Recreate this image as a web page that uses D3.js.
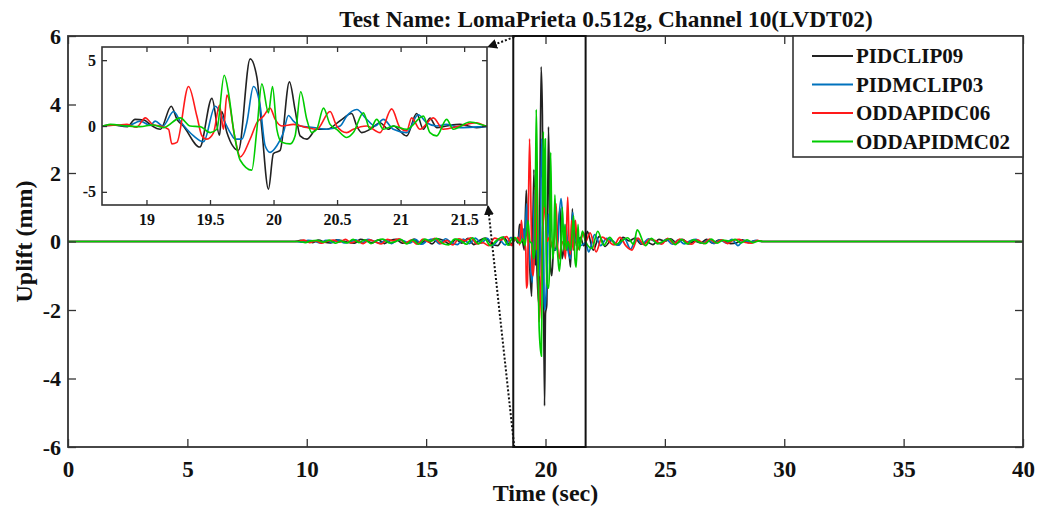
<!DOCTYPE html>
<html>
<head>
<meta charset="utf-8">
<title>Uplift time history</title>
<script src="https://d3js.org/d3.v7.min.js"></script>
<style>
  body { margin: 0; background: #fff; }
  text { font-family: "Liberation Serif", "Times New Roman", serif; font-weight: bold; fill: #111; }
  .tick line { stroke: #333; stroke-width: 1.3px; }
</style>
</head>
<body>
<svg id="chart" width="1040" height="509"></svg>
<script>
// ---- data ----
var seriesNames = ["PIDCLIP09", "PIDMCLIP03", "ODDAPIDC06", "ODDAPIDMC02"];
var seriesColors = ["#222222", "#0072bd", "#ff1a1a", "#00cc00"];

var xTicks = [0, 5, 10, 15, 20, 25, 30, 35, 40];
var yTicks = [-6, -4, -2, 0, 2, 4, 6];
var insetXTicks = [19, 19.5, 20, 20.5, 21, 21.5];
var insetYTicks = [-5, 0, 5];
var zoomWindow = [18.65, 21.68];

// quiet parts of the record (value 0)
var quietBefore = [0, 9.3];
var quietAfter = [29.1, 40];

// sample times of the low level noise, one set per record
var preTimesA = [9.5, 9.75, 10, 10.25, 10.5, 10.75, 11, 11.25, 11.5, 11.75, 12, 12.25, 12.5, 12.75, 13, 13.25, 13.5, 13.75, 14, 14.25, 14.5, 14.75, 15, 15.25, 15.5, 15.75, 16, 16.25, 16.5, 16.75, 17, 17.25, 17.5, 17.75, 18, 18.25, 18.5];
var preTimesB = [9.56, 9.81, 10.06, 10.31, 10.56, 10.81, 11.06, 11.31, 11.56, 11.81, 12.06, 12.31, 12.56, 12.81, 13.06, 13.31, 13.56, 13.81, 14.06, 14.31, 14.56, 14.81, 15.06, 15.31, 15.56, 15.81, 16.06, 16.31, 16.56, 16.81, 17.06, 17.31, 17.56, 17.81, 18.06, 18.31, 18.56];
var preTimesC = [9.62, 9.87, 10.12, 10.37, 10.62, 10.87, 11.12, 11.37, 11.62, 11.87, 12.12, 12.37, 12.62, 12.87, 13.12, 13.37, 13.62, 13.87, 14.12, 14.37, 14.62, 14.87, 15.12, 15.37, 15.62, 15.87, 16.12, 16.37, 16.62, 16.87, 17.12, 17.37, 17.62, 17.87, 18.12, 18.37, 18.6];
var preTimesD = [9.69, 9.94, 10.19, 10.44, 10.69, 10.94, 11.19, 11.44, 11.69, 11.94, 12.19, 12.44, 12.69, 12.94, 13.19, 13.44, 13.69, 13.94, 14.19, 14.44, 14.69, 14.94, 15.19, 15.44, 15.69, 15.94, 16.19, 16.44, 16.69, 16.94, 17.19, 17.44, 17.69, 17.94, 18.19, 18.44, 18.62];
var postTimesA = [21.75, 22, 22.25, 22.5, 22.75, 23, 23.25, 23.5, 23.75, 24, 24.25, 24.5, 24.75, 25, 25.25, 25.5, 25.75, 26, 26.25, 26.5, 26.75, 27, 27.25, 27.5, 27.75, 28, 28.25, 28.5, 28.75];
var postTimesB = [21.81, 22.06, 22.31, 22.56, 22.81, 23.06, 23.31, 23.56, 23.81, 24.06, 24.31, 24.56, 24.81, 25.06, 25.31, 25.56, 25.81, 26.06, 26.31, 26.56, 26.81, 27.06, 27.31, 27.56, 27.81, 28.06, 28.31, 28.56, 28.81];
var postTimesC = [21.87, 22.12, 22.37, 22.62, 22.87, 23.12, 23.37, 23.62, 23.87, 24.12, 24.37, 24.62, 24.87, 25.12, 25.37, 25.62, 25.87, 26.12, 26.37, 26.62, 26.87, 27.12, 27.37, 27.62, 27.87, 28.12, 28.37, 28.62, 28.87];
var postTimesD = [21.94, 22.19, 22.44, 22.69, 22.94, 23.19, 23.44, 23.69, 23.84, 24.19, 24.44, 24.69, 24.94, 25.19, 25.44, 25.69, 25.94, 26.19, 26.44, 26.69, 26.94, 27.19, 27.44, 27.69, 27.94, 28.19, 28.44, 28.69, 28.94];

var pidclipPre = [0, 0.03, 0.01, -0.03, 0.04, -0.02, -0.04, 0.05, 0.02, -0.03, -0.05, 0.06, 0.02, -0.04, 0.05, -0.06, 0.03, 0.06, -0.05, -0.02, 0.07, -0.06, 0.04, -0.07, 0.08, 0.02, -0.08, 0.06, -0.05, 0.09, -0.09, 0.04, 0.1, -0.08, -0.12, 0.13, -0.1];
var pidmclipPre = [0, -0.02, 0.03, 0.01, -0.04, 0.03, -0.03, 0.05, -0.04, -0.01, 0.05, -0.04, 0.06, 0.01, -0.05, 0.04, -0.06, 0.05, 0.02, -0.05, 0.06, -0.08, 0.03, 0.07, -0.07, 0.08, -0.03, -0.09, 0.07, -0.06, 0.1, -0.04, 0.09, -0.11, 0.06, -0.1, 0.12];
var oddaPidcPre = [0, 0.04, -0.03, 0.02, -0.05, 0.01, 0.04, -0.02, 0.06, -0.04, 0.02, -0.06, 0.05, -0.01, -0.07, 0.06, 0.02, 0.08, -0.05, 0.04, -0.08, 0.07, -0.02, 0.09, -0.06, 0.03, -0.1, 0.08, 0.02, 0.11, -0.07, -0.03, -0.12, 0.1, 0.04, 0.14, -0.12];
var oddaPidmcPre = [0, -0.03, 0.02, 0.03, -0.02, 0.04, -0.05, 0.01, -0.04, 0.06, -0.03, 0.05, -0.06, 0.03, 0.07, -0.04, -0.01, 0.06, -0.07, 0.05, -0.08, 0.07, 0.01, 0.09, -0.06, -0.1, 0.07, 0.03, -0.08, 0.11, -0.07, 0.09, -0.12, 0.02, 0.13, -0.11, 0.1];

var pidclipPost = [0.3, -0.25, 0.15, -0.14, 0.03, -0.1, 0.12, 0.02, 0.1, -0.08, -0.02, -0.09, 0.06, 0.01, 0.08, -0.05, 0.06, -0.07, 0.01, -0.04, 0.06, -0.05, 0.04, 0.01, -0.06, -0.04, 0.05, -0.03, 0.02];
var pidmclipPost = [-0.3, 0.2, -0.12, 0.09, 0.02, -0.11, 0.08, -0.22, 0.09, -0.07, 0.08, 0.01, -0.06, 0.07, -0.08, 0.05, -0.07, 0.02, 0.06, -0.05, 0.04, -0.06, 0.05, -0.04, 0.06, -0.12, 0.03, -0.02, 0.03];
var oddaPidcPost = [0.25, -0.3, 0.13, 0.02, -0.1, 0.12, -0.13, -0.25, 0.1, -0.09, 0.07, 0.02, -0.08, 0.09, -0.06, 0.07, 0.01, -0.08, 0.05, -0.06, 0.07, -0.04, 0.05, -0.06, 0.04, 0.06, -0.03, -0.05, 0.03];
var oddaPidmcPost = [-0.2, 0.3, -0.11, 0.12, -0.09, 0.02, 0.11, -0.08, 0.34, -0.12, 0.09, -0.07, 0.01, 0.08, -0.09, 0.06, -0.07, 0.05, -0.02, -0.06, 0.07, -0.05, 0.04, 0.01, 0.06, -0.04, 0.05, -0.03, 0.02];

// strong motion part (the zoomed window)
var pidclipT = [18.65, 18.72, 18.85, 18.91, 18.98, 19.03, 19.11, 19.195, 19.24, 19.29, 19.42, 19.515, 19.575, 19.593, 19.633, 19.724, 19.816, 19.869, 19.908, 19.96, 19.999, 20.052, 20.125, 20.17, 20.209, 20.262, 20.34, 20.419, 20.524, 20.615, 20.655, 20.694, 20.76, 20.838, 20.904, 20.943, 21.048, 21.126, 21.179, 21.231, 21.284, 21.362, 21.467, 21.598, 21.68];
var pidclipV = [0, 0.1, -0.05, 0.5, 0.45, 0.1, -0.25, 1.5, 0.5, 0, -1.6, 2.1, -0.7, 1.1, -0.5, -1.85, 5.1, 3.7, -0.25, -4.8, -2.1, -1.85, 3.35, 1.2, -0.75, -1.0, -0.25, -0.25, 0.4, 0.95, 0, -0.5, -0.25, 0.25, -0.25, 0, -0.75, 0.95, -0.25, 0.6, -0.12, 0, 0.12, -0.12, 0];

var pidmclipT = [18.65, 18.75, 18.85, 18.951, 19.03, 19.069, 19.13, 19.213, 19.266, 19.371, 19.449, 19.541, 19.606, 19.659, 19.698, 19.751, 19.79, 19.842, 19.895, 19.934, 19.973, 20.026, 20.078, 20.117, 20.157, 20.209, 20.314, 20.419, 20.524, 20.576, 20.655, 20.733, 20.799, 20.864, 20.943, 21.048, 21.139, 21.205, 21.284, 21.362, 21.467, 21.68];
var pidmclipV = [0, 0.08, 0, 0.37, 0.05, 0.37, 0, 1.1, 0.37, -0.75, -1.2, 1.5, 0.5, -0.5, -1.0, -1.0, 0.25, 3.0, 1.5, -1.5, -2.0, -1.5, -0.5, 0.8, 0.37, 0, -0.12, -0.25, 0, 0.75, 1.25, 0.5, 0, 0.5, -0.25, -0.5, 0.85, 0.25, 0, 0.12, -0.12, -0.05];

var oddaPidcT = [18.65, 18.78, 18.847, 18.92, 18.991, 19.05, 19.109, 19.174, 19.2, 19.24, 19.331, 19.397, 19.436, 19.475, 19.528, 19.575, 19.606, 19.633, 19.698, 19.738, 19.816, 19.869, 19.921, 19.973, 20.013, 20.065, 20.157, 20.262, 20.34, 20.445, 20.497, 20.576, 20.628, 20.733, 20.838, 20.93, 20.995, 21.048, 21.087, 21.153, 21.257, 21.336, 21.467, 21.598, 21.68];
var oddaPidcV = [0, 0.08, 0.12, -0.1, 0.62, 0.1, 0, -0.25, -1.36, -1.24, 3.0, 0.74, -0.74, -1.0, -0.5, 1.6, -0.25, 2.35, -0.99, -2.35, -0.99, 0.25, 0.75, 1.36, 0.5, 0, 0.12, -0.12, -0.25, 1.1, 0, -0.5, -0.25, 0, -0.5, 1.3, -0.12, -0.37, 0.62, -0.25, 0.62, -0.25, 0, 0.25, 0];

var oddaPidmcT = [18.65, 18.716, 18.847, 18.95, 19.05, 19.135, 19.266, 19.344, 19.423, 19.502, 19.554, 19.612, 19.646, 19.685, 19.738, 19.829, 19.869, 19.908, 19.96, 19.992, 20.026, 20.065, 20.131, 20.17, 20.214, 20.262, 20.301, 20.34, 20.393, 20.445, 20.497, 20.576, 20.628, 20.707, 20.76, 20.812, 20.864, 20.943, 21.048, 21.179, 21.231, 21.284, 21.362, 21.415, 21.546, 21.68];
var oddaPidmcV = [0, 0.12, 0, -0.05, 0.08, -0.12, 0.62, 0, -0.05, -0.5, -0.25, 3.85, 2.5, -0.25, -2.6, -3.35, -0.25, 3.2, 1.0, 3.0, -0.25, -1.24, -1.36, -0.74, 2.6, 0.5, -0.5, -0.25, 1.36, 0.12, -0.25, -0.87, -0.5, 1.0, -0.25, 0.5, -0.25, 0, -0.25, 0.75, -0.5, -0.75, 0.5, -0.25, 0.3, 0];

// ---- assemble each record ----
function buildSeries(preT, preV, bT, bV, postT, postV) {
  var pts = quietBefore.map(function(t) { return [t, 0]; });
  preT.forEach(function(t, i) { pts.push([t, preV[i]]); });
  bT.forEach(function(t, i) { pts.push([t, bV[i]]); });
  postT.forEach(function(t, i) { pts.push([t, postV[i]]); });
  quietAfter.forEach(function(t) { pts.push([t, 0]); });
  return pts;
}

var series = [
  buildSeries(preTimesA, pidclipPre, pidclipT, pidclipV, postTimesA, pidclipPost),
  buildSeries(preTimesB, pidmclipPre, pidmclipT, pidmclipV, postTimesB, pidmclipPost),
  buildSeries(preTimesC, oddaPidcPre, oddaPidcT, oddaPidcV, postTimesC, oddaPidcPost),
  buildSeries(preTimesD, oddaPidmcPre, oddaPidmcT, oddaPidmcV, postTimesD, oddaPidmcPost)
];

// ---- layout ----
var svg = d3.select("#chart");
var plot = { left: 68, right: 1023, top: 36, bottom: 447 };
var inset = { left: 102, right: 487, top: 47, bottom: 205 };
var plain = function(d) { return String(d); };

var x = d3.scaleLinear().domain([0, 40]).range([plot.left, plot.right]);
var y = d3.scaleLinear().domain([-6, 6]).range([plot.bottom, plot.top]);

var line = d3.line()
    .curve(d3.curveMonotoneX)
    .x(function(d) { return x(d[0]); })
    .y(function(d) { return y(d[1]); });

svg.append("defs").append("marker")
    .attr("id", "arrow")
    .attr("viewBox", "0 0 10 10")
    .attr("refX", 9).attr("refY", 5)
    .attr("markerWidth", 5).attr("markerHeight", 5)
    .attr("orient", "auto")
  .append("path")
    .attr("d", "M0,0L10,5L0,10Z")
    .attr("fill", "#111");

// main traces
svg.append("g").selectAll("path")
    .data(series)
    .enter().append("path")
    .attr("d", line)
    .attr("fill", "none")
    .attr("stroke", function(d, i) { return seriesColors[i]; })
    .attr("stroke-width", 1.7)
    .attr("stroke-linejoin", "round");

// axes, ticks pointing inward as in matlab
var gx = svg.append("g").attr("transform", "translate(0," + plot.bottom + ")")
    .call(d3.axisBottom(x).tickValues(xTicks).tickFormat(plain).tickSizeInner(-8).tickSizeOuter(0).tickPadding(14));
var gxTop = svg.append("g").attr("transform", "translate(0," + plot.top + ")")
    .call(d3.axisTop(x).tickValues(xTicks).tickSizeInner(-8).tickSizeOuter(0).tickFormat(""));
var gy = svg.append("g").attr("transform", "translate(" + plot.left + ",0)")
    .call(d3.axisLeft(y).tickValues(yTicks).tickFormat(plain).tickSizeInner(-8).tickSizeOuter(0).tickPadding(7));
var gyRight = svg.append("g").attr("transform", "translate(" + plot.right + ",0)")
    .call(d3.axisRight(y).tickValues(yTicks).tickSizeInner(-8).tickSizeOuter(0).tickFormat(""));

[gx, gxTop, gy, gyRight].forEach(function(g) {
  g.select(".domain").remove();
  g.selectAll("text").style("font-size", "22px").attr("fill", "#111");
});
gx.selectAll("text").style("font-size", "23px");

svg.append("rect")
    .attr("x", plot.left).attr("y", plot.top)
    .attr("width", plot.right - plot.left).attr("height", plot.bottom - plot.top)
    .attr("fill", "none").attr("stroke", "#333").attr("stroke-width", 1.8);

// zoom window rectangle
svg.append("rect")
    .attr("x", x(zoomWindow[0])).attr("y", plot.top)
    .attr("width", x(zoomWindow[1]) - x(zoomWindow[0])).attr("height", plot.bottom - plot.top)
    .attr("fill", "none").attr("stroke", "#111").attr("stroke-width", 2);

// ---- inset ----
var xi = d3.scaleLinear().domain(zoomWindow).range([inset.left, inset.right]);
var yi = d3.scaleLinear().domain([-6, 6]).range([inset.bottom, inset.top]);
var lineInset = d3.line()
    .curve(d3.curveMonotoneX)
    .x(function(d) { return xi(d[0]); })
    .y(function(d) { return yi(d[1]); });

svg.append("rect")
    .attr("x", inset.left).attr("y", inset.top)
    .attr("width", inset.right - inset.left).attr("height", inset.bottom - inset.top)
    .attr("fill", "#fff");

svg.select("defs").append("clipPath").attr("id", "insetClip")
  .append("rect")
    .attr("x", inset.left).attr("y", inset.top)
    .attr("width", inset.right - inset.left).attr("height", inset.bottom - inset.top);

svg.append("g").attr("clip-path", "url(#insetClip)")
  .selectAll("path")
    .data(series)
    .enter().append("path")
    .attr("d", lineInset)
    .attr("fill", "none")
    .attr("stroke", function(d, i) { return seriesColors[i]; })
    .attr("stroke-width", 1.6)
    .attr("stroke-linejoin", "round");

var gxi = svg.append("g").attr("transform", "translate(0," + inset.bottom + ")")
    .call(d3.axisBottom(xi).tickValues(insetXTicks).tickFormat(plain).tickSizeInner(-5).tickSizeOuter(0).tickPadding(9));
var gxiTop = svg.append("g").attr("transform", "translate(0," + inset.top + ")")
    .call(d3.axisTop(xi).tickValues(insetXTicks).tickSizeInner(-5).tickSizeOuter(0).tickFormat(""));
var gyi = svg.append("g").attr("transform", "translate(" + inset.left + ",0)")
    .call(d3.axisLeft(yi).tickValues(insetYTicks).tickFormat(plain).tickSizeInner(-5).tickSizeOuter(0).tickPadding(6));
var gyiRight = svg.append("g").attr("transform", "translate(" + inset.right + ",0)")
    .call(d3.axisRight(yi).tickValues(insetYTicks).tickSizeInner(-5).tickSizeOuter(0).tickFormat(""));

[gxi, gxiTop, gyi, gyiRight].forEach(function(g) {
  g.select(".domain").remove();
  g.selectAll("text").style("font-size", "16px").attr("fill", "#111");
});

svg.append("rect")
    .attr("x", inset.left).attr("y", inset.top)
    .attr("width", inset.right - inset.left).attr("height", inset.bottom - inset.top)
    .attr("fill", "none").attr("stroke", "#333").attr("stroke-width", 1.6);

// dotted pointers from the window to the inset
var pointers = [
  [[x(zoomWindow[0]) + 1, plot.top + 1], [inset.right + 1, inset.top]],
  [[x(zoomWindow[0]) + 1, plot.bottom], [inset.right + 1, inset.bottom + 1]]
];
svg.append("g").selectAll("line")
    .data(pointers)
    .enter().append("line")
    .attr("x1", function(d) { return d[0][0]; })
    .attr("y1", function(d) { return d[0][1]; })
    .attr("x2", function(d) { return d[1][0]; })
    .attr("y2", function(d) { return d[1][1]; })
    .attr("stroke", "#111")
    .attr("stroke-width", 2)
    .attr("stroke-dasharray", "2,2")
    .attr("marker-end", "url(#arrow)");

// ---- legend ----
var legend = { left: 793, top: plot.top, width: plot.right - 793, height: 121 };
svg.append("rect")
    .attr("x", legend.left).attr("y", legend.top)
    .attr("width", legend.width).attr("height", legend.height)
    .attr("fill", "#fff").attr("stroke", "#333").attr("stroke-width", 1.6);

var items = svg.append("g").selectAll("g")
    .data(seriesNames)
    .enter().append("g")
    .attr("transform", function(d, i) { return "translate(" + legend.left + "," + (legend.top + 20 + i * 28.5) + ")"; });
items.append("line")
    .attr("x1", 19).attr("x2", 60)
    .attr("stroke", function(d, i) { return seriesColors[i]; })
    .attr("stroke-width", 1.8);
items.append("text")
    .attr("x", 63).attr("dy", "0.34em")
    .style("font-size", "21px")
    .text(function(d) { return d; });

// ---- titles ----
svg.append("text")
    .attr("x", 606).attr("y", 27)
    .attr("text-anchor", "middle")
    .style("font-size", "23.3px")
    .text("Test Name: LomaPrieta 0.512g, Channel 10(LVDT02)");

svg.append("text")
    .attr("x", (plot.left + plot.right) / 2).attr("y", 501)
    .attr("text-anchor", "middle")
    .style("font-size", "24px")
    .text("Time (sec)");

svg.append("text")
    .attr("transform", "translate(32," + y(0) + ") rotate(-90)")
    .attr("text-anchor", "middle")
    .style("font-size", "24px")
    .text("Uplift (mm)");
</script>
</body>
</html>
